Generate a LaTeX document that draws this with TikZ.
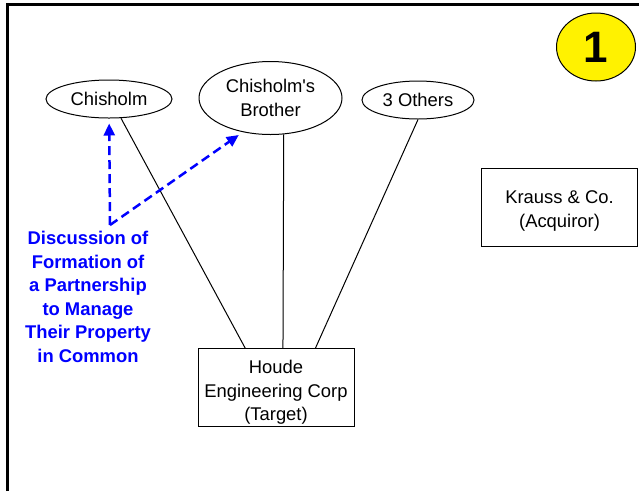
\documentclass[tikz,border=0pt]{standalone}
\usepackage{fontspec}
\setmainfont{Liberation Sans}
\usepackage{tikz}
\usetikzlibrary{arrows.meta,shapes.geometric}

\begin{document}
\begin{tikzpicture}[x=1pt,y=1pt]
			\tikzstyle{every node}+=[inner sep=0pt,align=center,font=\fontsize{18.4}{23.5}\selectfont]
			\tikzstyle{party}=[draw=black,ellipse,line width=1pt]
			\tikzstyle{firm}=[draw=black,rectangle,line width=1pt,minimum width=156,minimum height=78]
			\tikzstyle{talk}=[draw=blue,line width=2.5pt,dash pattern=on 9pt off 5pt,-{Triangle[length=12pt,width=11pt]},shorten >=5pt]
			\useasboundingbox (0,0) rectangle (639,-491);
			\draw [black,line width=3pt] (7,-491) -- (7,-4) -- (639,-4);
			\node [party,minimum width=126,minimum height=38] (chisholm) at (109,-99) {Chisholm};
			\node [party,minimum width=143,minimum height=73] (brother) at (270.5,-98) {Chisholm\textquotesingle s\\Brother};
			\node [party,minimum width=112,minimum height=38] (others) at (418,-100) {3 Others};
			\node [draw=black,fill=yellow,ellipse,line width=1pt,minimum width=79,minimum height=68,font=\fontsize{44}{44}\selectfont\bfseries] (badge) at (596,-47) {1};
			\node [firm] (krauss) at (559.5,-207.5) {\rule{0pt}{19.5pt}Krauss \& Co.\\(Acquiror)};
			\node [firm] (houde) at (276,-387.5) {\rule{0pt}{23pt}Houde\\Engineering Corp\\(Target)};
			\draw [black,line width=1pt] (chisholm.-58) -- (houde.128);
			\draw [black,line width=1pt] (brother.-70) -- (houde.80);
			\draw [black,line width=1pt] (others.south) -- (houde.45);
			\coordinate (fork) at (110,-225);
			\draw [talk] (fork) -- (chisholm);
			\draw [talk] (fork) -- (brother.-129);
			\node [text=blue,font=\fontsize{18.4}{23.5}\selectfont\bfseries] (note) at (88,-297) {Discussion of\\Formation of\\a Partnership\\to Manage\\Their Property\\in Common};
\end{tikzpicture}
\end{document}
